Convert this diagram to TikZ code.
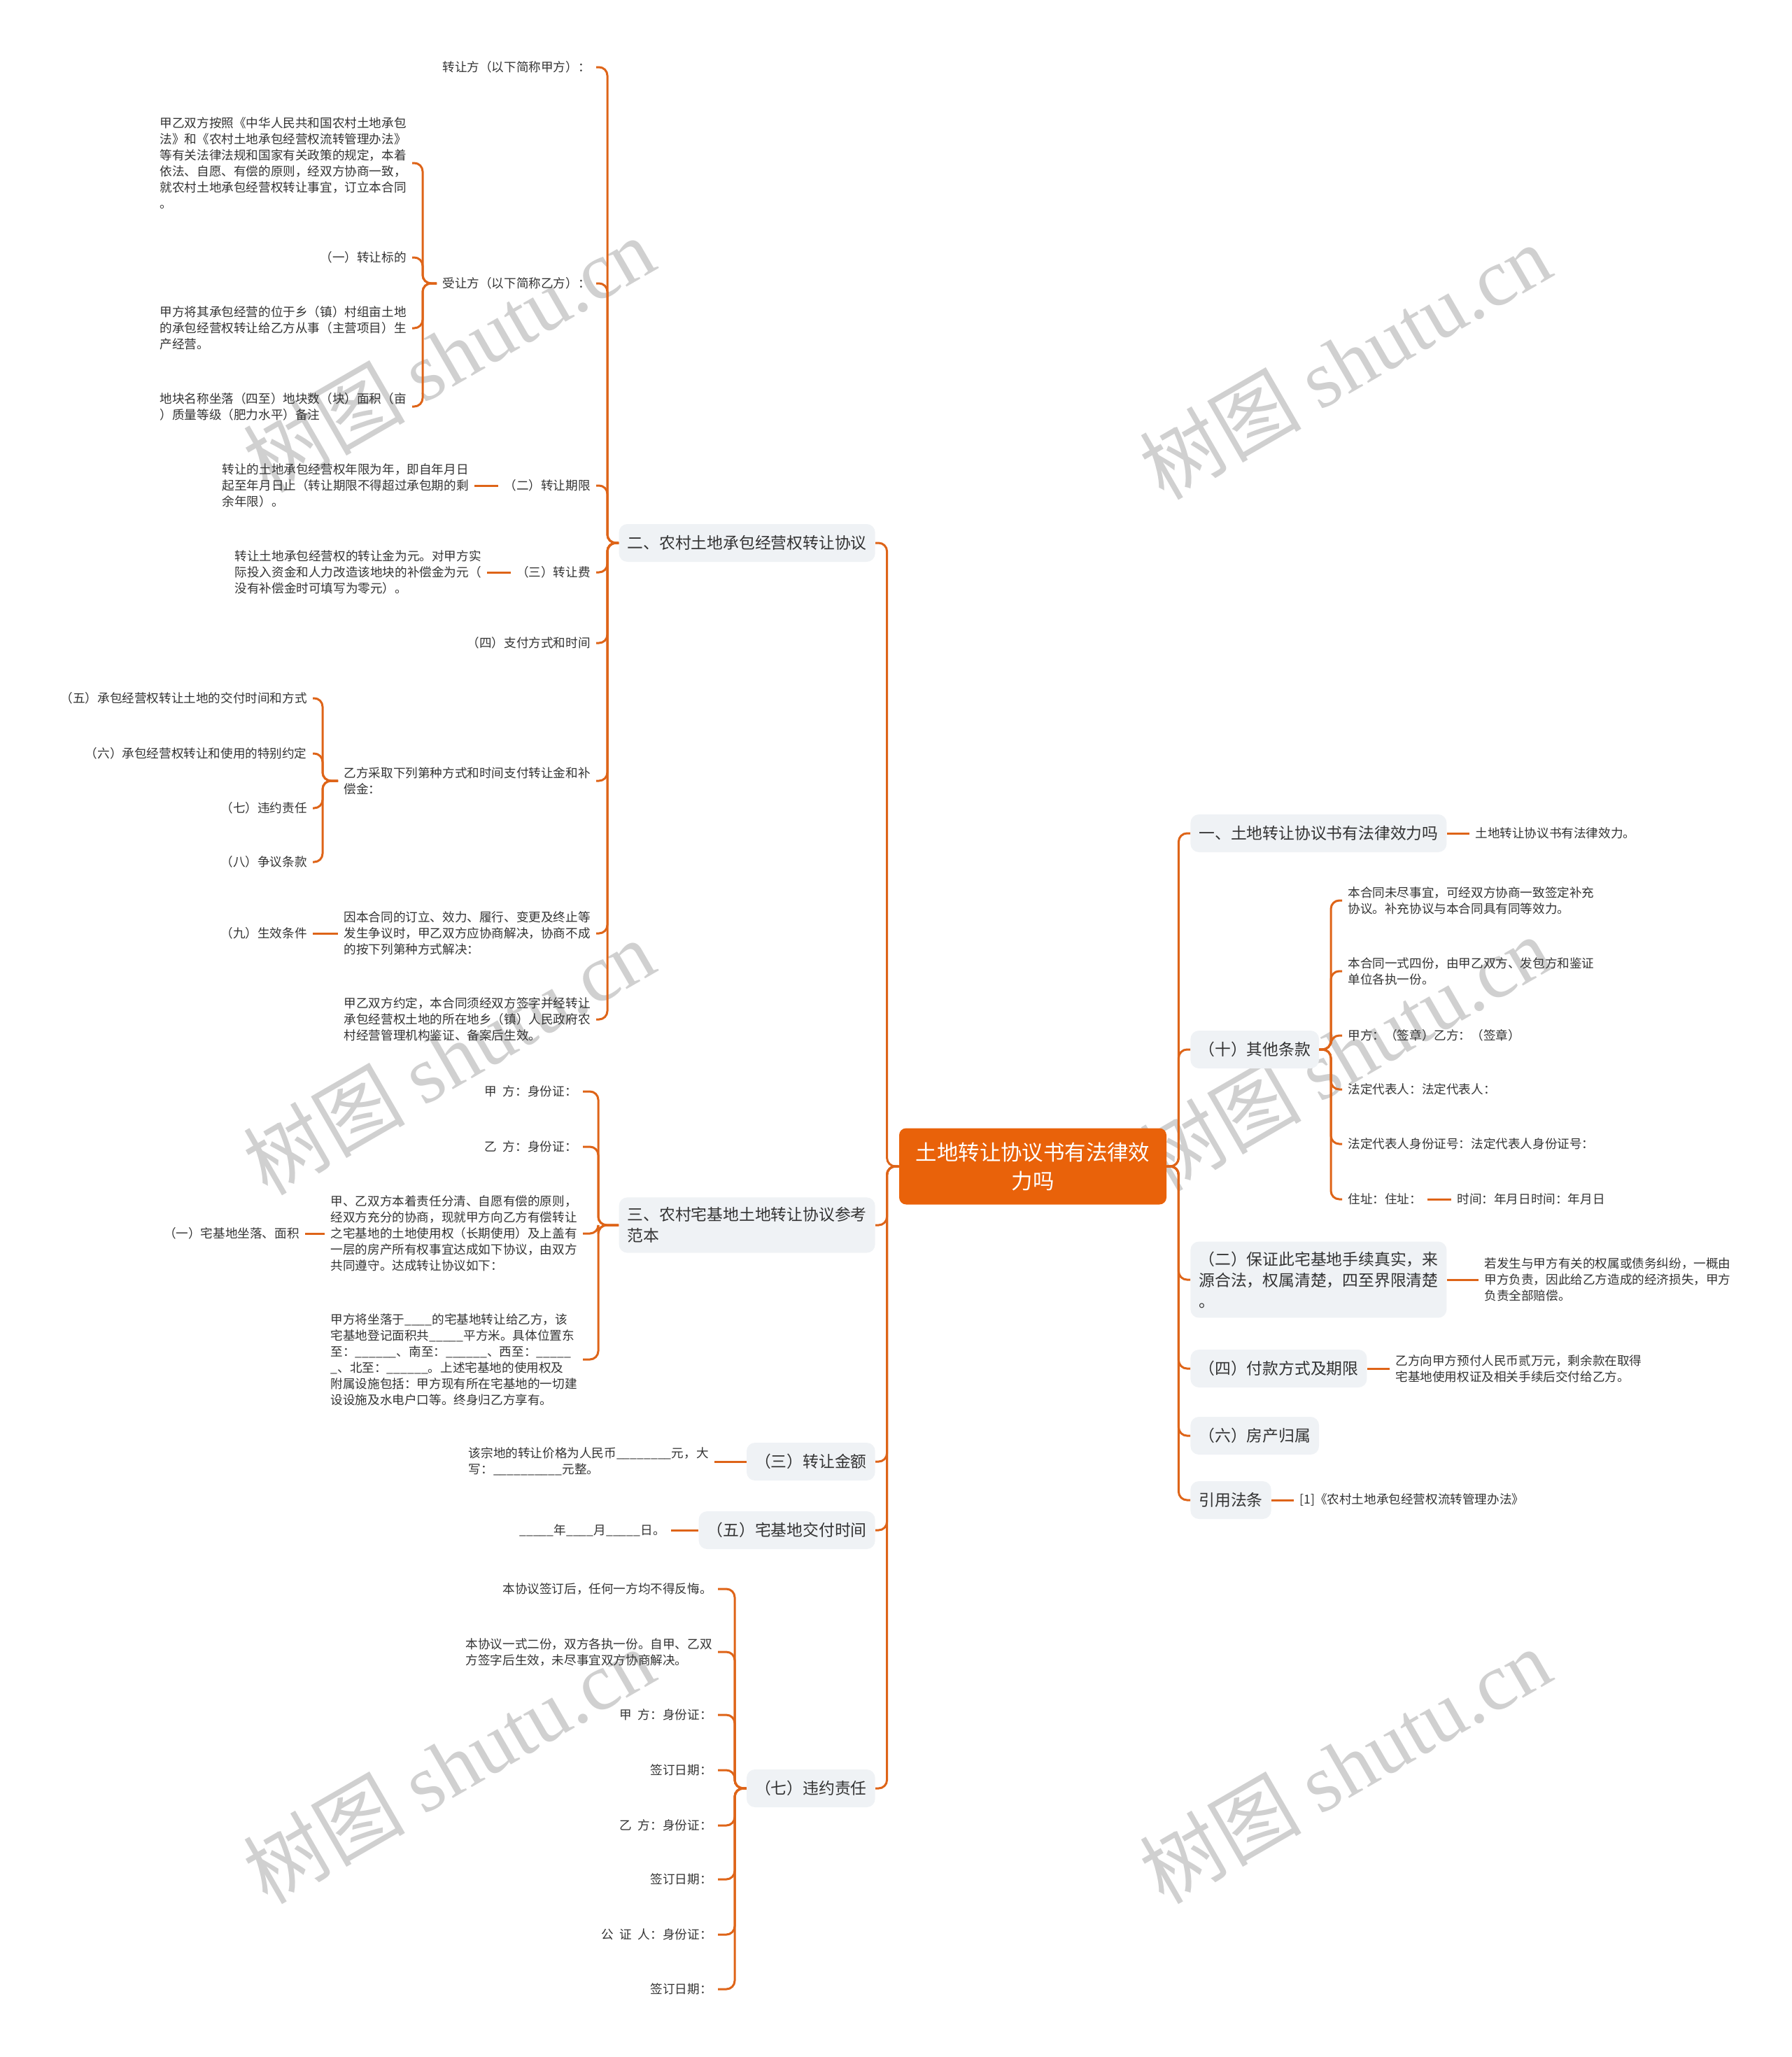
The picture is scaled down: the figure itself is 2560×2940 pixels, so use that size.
\documentclass[tikz,border=0pt]{standalone}
\usepackage{fontspec}
\setmainfont{Noto Sans CJK SC}
\newfontfamily\wmserif{Liberation Serif}

\definecolor{rootorange}{RGB}{233,98,10}
\definecolor{linkorange}{RGB}{222,100,24}
\definecolor{topicgray}{RGB}{239,242,245}
\definecolor{textdark}{RGB}{51,51,51}
\definecolor{wmgray}{RGB}{208,208,208}

\newcommand{\rootfont}{\fontsize{15.2pt}{20.5pt}\selectfont}
\newcommand{\topicfont}{\fontsize{11.4pt}{15pt}\selectfont}
\newcommand{\leaffont}{\fontsize{8.8pt}{11.5pt}\selectfont}
\newcommand{\wmfont}{\fontsize{58pt}{60pt}\selectfont}

\begin{document}
\begin{tikzpicture}[
        x=0.5pt, y=-0.5pt,
        root/.style={fill=rootorange, text=white, rounded corners=5pt, font=\rootfont, align=center, minimum width=191pt, minimum height=54.5pt, inner sep=0pt},
        topic/.style={fill=topicgray, text=textdark, rounded corners=6pt, font=\topicfont, align=left, inner xsep=6pt, inner ysep=7pt, minimum height=27pt},
        leaf/.style={text=textdark, font=\leaffont, align=left, inner xsep=4pt, inner ysep=2pt},
        link/.style={draw=linkorange, line width=1.5pt, rounded corners=6pt},
        wmark/.style={text=wmgray, font=\wmfont, rotate=30, inner sep=0pt}
        ]

        \useasboundingbox (0,0) rectangle (2560,2940);

        % Watermarks (behind everything)
        \node[wmark] (wm1) at (641,506) {树图 {\wmserif shutu.cn}};
        \node[wmark] (wm2) at (1922,516) {树图 {\wmserif shutu.cn}};
        \node[wmark] (wm3) at (641,1510) {树图 {\wmserif shutu.cn}};
        \node[wmark] (wm4) at (1922,1505) {树图 {\wmserif shutu.cn}};
        \node[wmark] (wm5) at (641,2523) {树图 {\wmserif shutu.cn}};
        \node[wmark] (wm6) at (1922,2523) {树图 {\wmserif shutu.cn}};

        % Root
        \node[root] (root) at (1476,1667) {土地转让协议书有法律效\\力吗};

        % Right topics
        \node[topic, anchor=west] (R1) at (1701,1191) {一、土地转让协议书有法律效力吗};
        \node[topic, anchor=west] (R10) at (1701,1500) {（十）其他条款};
        \node[topic, anchor=west] (R2) at (1701,1829) {（二）保证此宅基地手续真实，来\\源合法，权属清楚，四至界限清楚\\。};
        \node[topic, anchor=west] (R4) at (1701,1956) {（四）付款方式及期限};
        \node[topic, anchor=west] (R6) at (1701,2052) {（六）房产归属};
        \node[topic, anchor=west] (Rref) at (1701,2144) {引用法条};

        % Right leaves
        \node[leaf, anchor=west] (r1l) at (2100,1191) {土地转让协议书有法律效力。};
        \node[leaf, anchor=west] (k1) at (1918,1287) {本合同未尽事宜，可经双方协商一致签定补充\\协议。补充协议与本合同具有同等效力。};
        \node[leaf, anchor=west] (k2) at (1918,1388) {本合同一式四份，由甲乙双方、发包方和鉴证\\单位各执一份。};
        \node[leaf, anchor=west] (k3) at (1918,1480) {甲方：（签章）乙方：（签章）};
        \node[leaf, anchor=west] (k4) at (1918,1557) {法定代表人：法定代表人：};
        \node[leaf, anchor=west] (k5) at (1918,1635) {法定代表人身份证号：法定代表人身份证号：};
        \node[leaf, anchor=west] (k6) at (1918,1714) {住址：住址：};
        \node[leaf, anchor=west] (k6a) at (2074,1714) {时间：年月日时间：年月日};
        \node[leaf, anchor=west] (r2l) at (2113,1829) {若发生与甲方有关的权属或债务纠纷，一概由\\甲方负责，因此给乙方造成的经济损失，甲方\\负责全部赔偿。};
        \node[leaf, anchor=west] (r4l) at (1986,1956) {乙方向甲方预付人民币贰万元，剩余款在取得\\宅基地使用权证及相关手续后交付给乙方。};
        \node[leaf, anchor=west] (rrefl) at (1849,2144) {[1]《农村土地承包经营权流转管理办法》};

        % Left topics
        \node[topic, anchor=east] (L2) at (1251,776) {二、农村土地承包经营权转让协议};
        \node[topic, anchor=east] (L3) at (1251,1751) {三、农村宅基地土地转让协议参考\\范本};
        \node[topic, anchor=east] (L3b) at (1251,2089) {（三）转让金额};
        \node[topic, anchor=east] (L5) at (1251,2187) {（五）宅基地交付时间};
        \node[topic, anchor=east] (L7) at (1251,2556) {（七）违约责任};

        % Left leaves: section two
        \node[leaf, anchor=east] (a1) at (852,96) {转让方（以下简称甲方）：};
        \node[leaf, anchor=east] (a2) at (852,405) {受让方（以下简称乙方）：};
        \node[leaf, anchor=east] (b1) at (589,233) {甲乙双方按照《中华人民共和国农村土地承包\\法》和《农村土地承包经营权流转管理办法》\\等有关法律法规和国家有关政策的规定，本着\\依法、自愿、有偿的原则，经双方协商一致，\\就农村土地承包经营权转让事宜，订立本合同\\。};
        \node[leaf, anchor=east] (b2) at (589,368) {（一）转让标的};
        \node[leaf, anchor=east] (b3) at (589,469) {甲方将其承包经营的位于乡（镇）村组亩土地\\的承包经营权转让给乙方从事（主营项目）生\\产经营。};
        \node[leaf, anchor=east] (b4) at (589,581) {地块名称坐落（四至）地块数（块）面积（亩\\）质量等级（肥力水平）备注};
        \node[leaf, anchor=east] (a3) at (852,694) {（二）转让期限};
        \node[leaf, anchor=east] (a3l) at (678,694) {转让的土地承包经营权年限为年，即自年月日\\起至年月日止（转让期限不得超过承包期的剩\\余年限）。};
        \node[leaf, anchor=east] (a4) at (852,818) {（三）转让费};
        \node[leaf, anchor=east] (a4l) at (696,818) {转让土地承包经营权的转让金为元。对甲方实\\际投入资金和人力改造该地块的补偿金为元（\\没有补偿金时可填写为零元）。};
        \node[leaf, anchor=east] (a5) at (852,919) {（四）支付方式和时间};
        \node[leaf, anchor=east] (a6) at (852,1116) {乙方采取下列第种方式和时间支付转让金和补\\偿金：};
        \node[leaf, anchor=east] (c1) at (447,998) {（五）承包经营权转让土地的交付时间和方式};
        \node[leaf, anchor=east] (c2) at (447,1077) {（六）承包经营权转让和使用的特别约定};
        \node[leaf, anchor=east] (c3) at (447,1155) {（七）违约责任};
        \node[leaf, anchor=east] (c4) at (447,1232) {（八）争议条款};
        \node[leaf, anchor=east] (a7) at (852,1334) {因本合同的订立、效力、履行、变更及终止等\\发生争议时，甲乙双方应协商解决，协商不成\\的按下列第种方式解决：};
        \node[leaf, anchor=east] (c9) at (447,1334) {（九）生效条件};
        \node[leaf, anchor=east] (a8) at (852,1457) {甲乙双方约定，本合同须经双方签字并经转让\\承包经营权土地的所在地乡（镇）人民政府农\\村经营管理机构鉴证、备案后生效。};

        % Left leaves: section three
        \node[leaf, anchor=east] (d1) at (833,1560) {甲\hspace{0.5em}方：身份证：};
        \node[leaf, anchor=east] (d2) at (833,1639) {乙\hspace{0.5em}方：身份证：};
        \node[leaf, anchor=east] (d3) at (833,1763) {甲、乙双方本着责任分清、自愿有偿的原则，\\经双方充分的协商，现就甲方向乙方有偿转让\\之宅基地的土地使用权（长期使用）及上盖有\\一层的房产所有权事宜达成如下协议，由双方\\共同遵守。达成转让协议如下：};
        \node[leaf, anchor=east] (d3a) at (436,1763) {（一）宅基地坐落、面积};
        \node[leaf, anchor=east] (d4) at (833,1943) {甲方将坐落于\_\_\_\_的宅基地转让给乙方，该\\宅基地登记面积共\_\_\_\_\_平方米。具体位置东\\至：\_\_\_\_\_\_、南至：\_\_\_\_\_\_、西至：\_\_\_\_\_\\\_、北至：\_\_\_\_\_\_。上述宅基地的使用权及\\附属设施包括：甲方现有所在宅基地的一切建\\设设施及水电户口等。终身归乙方享有。};
        \node[leaf, anchor=east] (l3bl) at (1021,2089) {该宗地的转让价格为人民币\_\_\_\_\_\_\_\_元，大\\写：\_\_\_\_\_\_\_\_\_\_元整。};
        \node[leaf, anchor=east] (l5l) at (959,2187) {\_\_\_\_\_年\_\_\_\_月\_\_\_\_\_日。};
        \node[leaf, anchor=east] (e1) at (1026,2271) {本协议签订后，任何一方均不得反悔。};
        \node[leaf, anchor=east] (e2) at (1026,2361) {本协议一式二份，双方各执一份。自甲、乙双\\方签字后生效，未尽事宜双方协商解决。};
        \node[leaf, anchor=east] (e3) at (1026,2451) {甲\hspace{0.5em}方：身份证：};
        \node[leaf, anchor=east] (e4) at (1026,2530) {签订日期：};
        \node[leaf, anchor=east] (e5) at (1026,2609) {乙\hspace{0.5em}方：身份证：};
        \node[leaf, anchor=east] (e6) at (1026,2686) {签订日期：};
        \node[leaf, anchor=east] (e7) at (1026,2765) {公\hspace{0.5em}证\hspace{0.5em}人：身份证：};
        \node[leaf, anchor=east] (e8) at (1026,2843) {签订日期：};

        % Trunks
        \draw[link] (root.east) -- ++(17,0) |- (R1.west);
        \draw[link] (root.east) -- ++(17,0) |- (R10.west);
        \draw[link] (root.east) -- ++(17,0) |- (R2.west);
        \draw[link] (root.east) -- ++(17,0) |- (R4.west);
        \draw[link] (root.east) -- ++(17,0) |- (R6.west);
        \draw[link] (root.east) -- ++(17,0) |- (Rref.west);
        \draw[link] (root.west) -- ++(-17,0) |- (L2.east);
        \draw[link] (root.west) -- ++(-17,0) |- (L3.east);
        \draw[link] (root.west) -- ++(-17,0) |- (L3b.east);
        \draw[link] (root.west) -- ++(-17,0) |- (L5.east);
        \draw[link] (root.west) -- ++(-17,0) |- (L7.east);

        % Right side branches
        \draw[link] (R1.east) -- (r1l.west);
        \draw[link] (k1.west) -- ++(-16,0) |- (R10.east);
        \draw[link] (k2.west) -- ++(-16,0) |- (R10.east);
        \draw[link] (k3.west) -- ++(-16,0) |- (R10.east);
        \draw[link] (k4.west) -- ++(-16,0) |- (R10.east);
        \draw[link] (k5.west) -- ++(-16,0) |- (R10.east);
        \draw[link] (k6.west) -- ++(-16,0) |- (R10.east);
        \draw[link] (k6.east) -- (k6a.west);
        \draw[link] (R2.east) -- (r2l.west);
        \draw[link] (R4.east) -- (r4l.west);
        \draw[link] (Rref.east) -- (rrefl.west);

        % Section two
        \draw[link] (a1.east) -- ++(16,0) |- (L2.west);
        \draw[link] (a2.east) -- ++(16,0) |- (L2.west);
        \draw[link] (a3.east) -- ++(16,0) |- (L2.west);
        \draw[link] (a4.east) -- ++(16,0) |- (L2.west);
        \draw[link] (a5.east) -- ++(16,0) |- (L2.west);
        \draw[link] (a6.east) -- ++(16,0) |- (L2.west);
        \draw[link] (a7.east) -- ++(16,0) |- (L2.west);
        \draw[link] (a8.east) -- ++(16,0) |- (L2.west);
        \draw[link] (b1.east) -- ++(15,0) |- (a2.west);
        \draw[link] (b2.east) -- ++(15,0) |- (a2.west);
        \draw[link] (b3.east) -- ++(15,0) |- (a2.west);
        \draw[link] (b4.east) -- ++(15,0) |- (a2.west);
        \draw[link] (a3.west) -- (a3l.east);
        \draw[link] (a4.west) -- (a4l.east);
        \draw[link] (c1.east) -- ++(14,0) |- (a6.west);
        \draw[link] (c2.east) -- ++(14,0) |- (a6.west);
        \draw[link] (c3.east) -- ++(14,0) |- (a6.west);
        \draw[link] (c4.east) -- ++(14,0) |- (a6.west);
        \draw[link] (a7.west) -- (c9.east);

        % Section three
        \draw[link] (d1.east) -- ++(22,0) |- (L3.west);
        \draw[link] (d2.east) -- ++(22,0) |- (L3.west);
        \draw[link] (d3.east) -- ++(22,0) |- (L3.west);
        \draw[link] (d4.east) -- ++(22,0) |- (L3.west);
        \draw[link] (d3.west) -- (d3a.east);
        \draw[link] (L3b.west) -- (l3bl.east);
        \draw[link] (L5.west) -- (l5l.east);
        \draw[link] (e1.east) -- ++(24,0) |- (L7.west);
        \draw[link] (e2.east) -- ++(24,0) |- (L7.west);
        \draw[link] (e3.east) -- ++(24,0) |- (L7.west);
        \draw[link] (e4.east) -- ++(24,0) |- (L7.west);
        \draw[link] (e5.east) -- ++(24,0) |- (L7.west);
        \draw[link] (e6.east) -- ++(24,0) |- (L7.west);
        \draw[link] (e7.east) -- ++(24,0) |- (L7.west);
        \draw[link] (e8.east) -- ++(24,0) |- (L7.west);

    \end{tikzpicture}
\end{document}
